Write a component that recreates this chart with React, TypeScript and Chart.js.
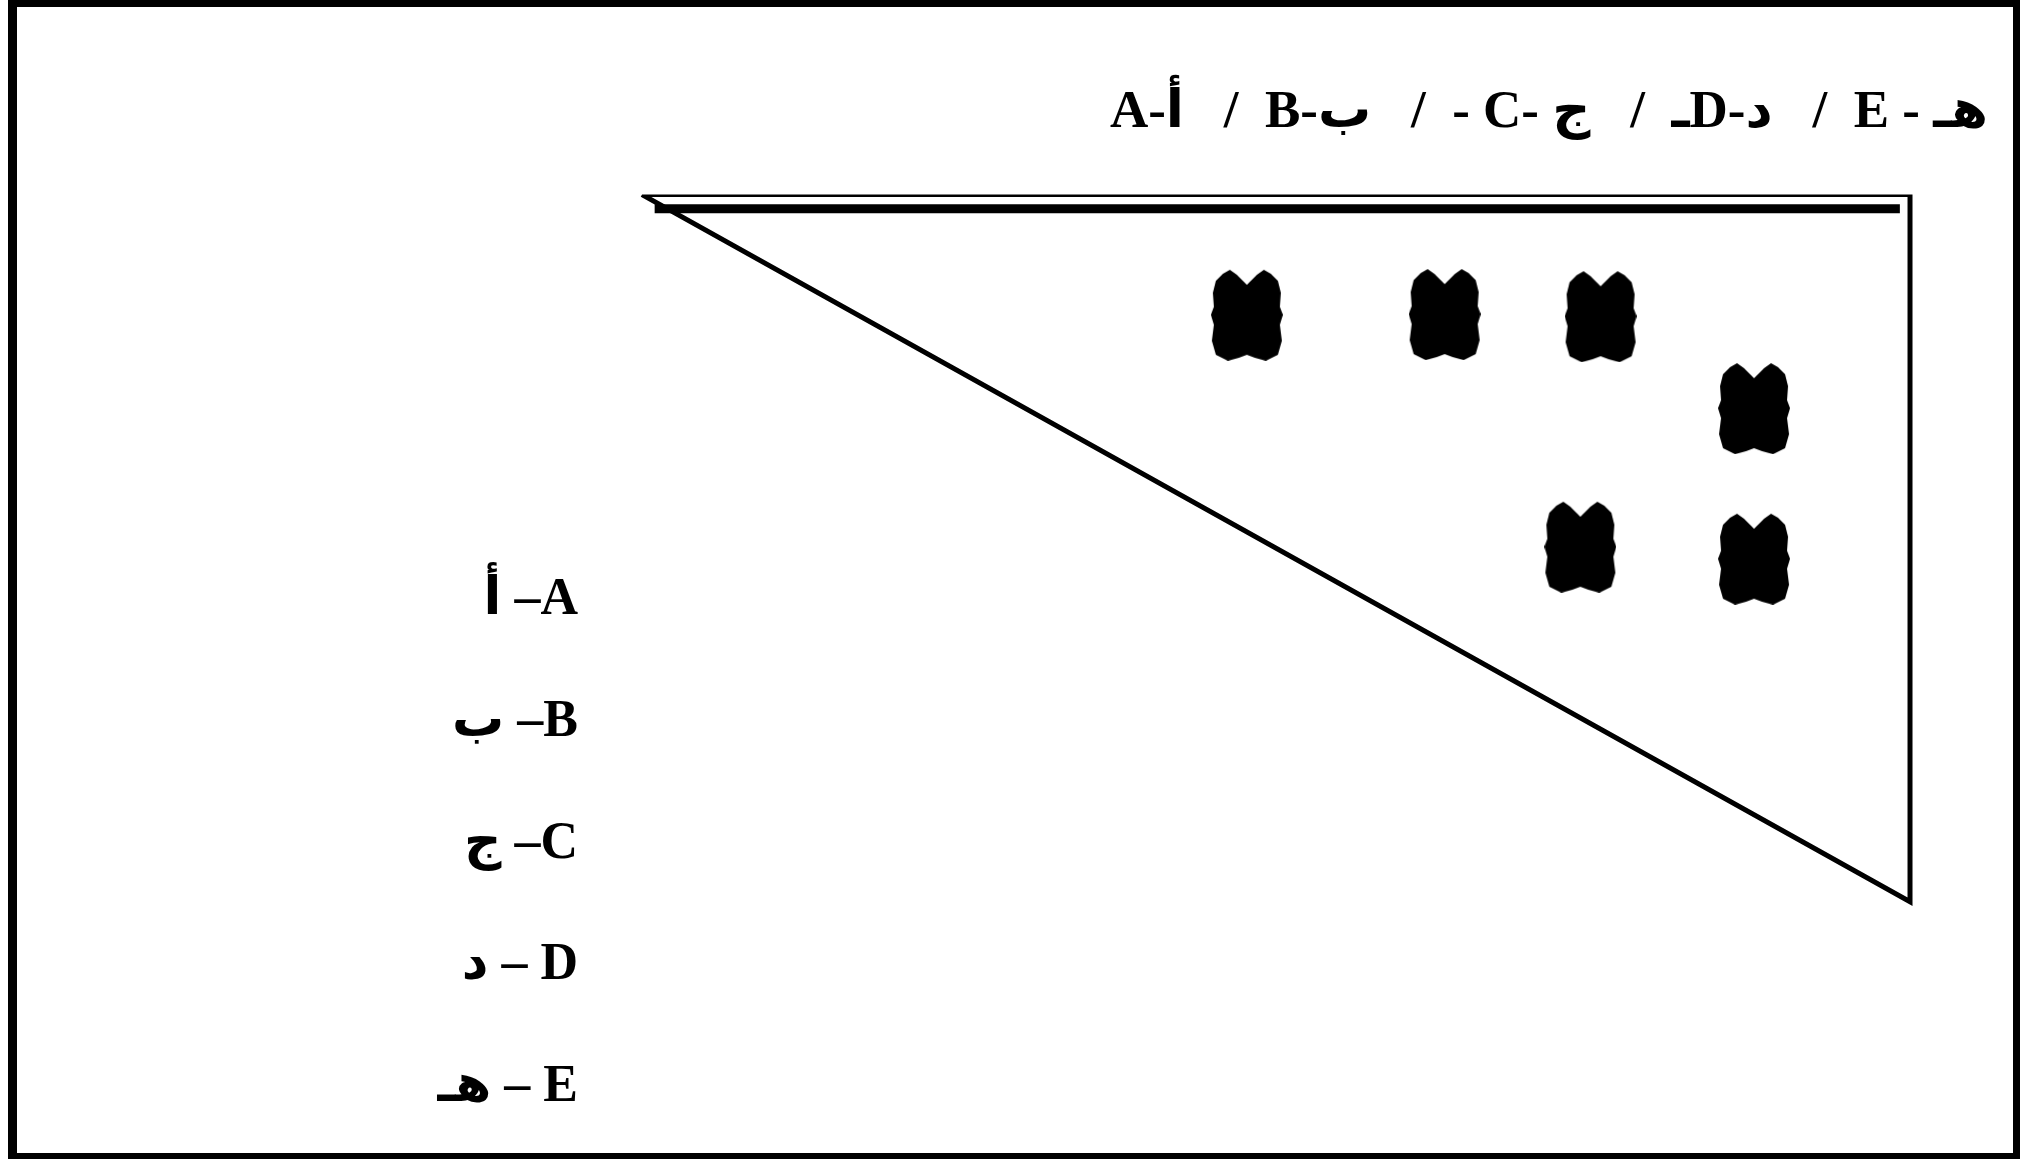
import React, { useEffect, useRef } from "react";
import { Chart, registerables } from "chart.js";

Chart.register(...registerables);

// Title (top legend) pieces
const titleParts = ["A-أ\u200E", "B-ب\u200E", "- C- ج\u200E", "\u200Eـ\u200ED-د\u200E", "E - هـ\u200E"];
// Left key labels (letter pairs)
const keyLabels = ["أ –A", "ب –B", "ج –C", "د – D", "هـ – E"];

// Triangle outline (matrix frame), in grid units
const triX = [0, 10, 10, 0];
const triY = [0, 0, 10, 0];
// Doubled heavy top rule
const ruleX = [0.1, 9.92];
const ruleY = [0.2, 0.2];

// Marked cells
const markX = [4.77, 6.33, 7.56, 8.77, 7.4, 8.77];
const markY = [1.70, 1.69, 1.72, 3.02, 4.98, 5.15];

const FONT = "'Liberation Serif', 'DejaVu Serif', 'DejaVu Sans', serif";

function makeMark(): HTMLCanvasElement {
  const c = document.createElement("canvas");
  const w = 72, h = 92;
  c.width = w;
  c.height = h;
  const g = c.getContext("2d")!;
  g.fillStyle = "#000";
  g.beginPath();
  const pts = [
    [5, 12], [12, 5], [19, 1], [26, 6], [33, 13], [36, 16], [39, 13], [46, 6], [53, 1], [60, 5], [67, 12],
    [70, 24], [69, 38], [72, 46], [69, 56], [71, 72], [67, 86], [55, 92], [44, 89], [36, 86], [28, 89],
    [17, 92], [5, 86], [1, 72], [3, 56], [0, 46], [3, 38], [2, 24],
  ];
  pts.forEach(([x, y], i) => (i === 0 ? g.moveTo(x, y) : g.lineTo(x, y)));
  g.closePath();
  g.fill();
  return c;
}

const framePlugin = {
  id: "frame",
  afterDraw(chart: any) {
    const ctx = chart.ctx;
    ctx.save();
    ctx.fillStyle = "#000";
    ctx.fillRect(8, 0, 2012, 7);
    ctx.fillRect(8, 0, 9, 1159);
    ctx.fillRect(2013, 0, 7, 1159);
    ctx.fillRect(8, 1153, 2012, 6);
    ctx.restore();
  },
};

export default function App() {
  const ref = useRef<HTMLCanvasElement | null>(null);

  useEffect(() => {
    document.body.style.margin = "0";
    document.body.style.overflow = "hidden";
    const canvas = ref.current!;
    const mark = makeMark();
    const chart = new Chart(canvas, {
      type: "scatter",
      data: {
        datasets: [
          {
            data: triX.map((x, i) => ({ x, y: triY[i] })),
            showLine: true,
            borderColor: "#000",
            borderWidth: 5,
            pointRadius: 0,
            yAxisID: "y",
          },
          {
            data: ruleX.map((x, i) => ({ x, y: ruleY[i] })),
            showLine: true,
            borderColor: "#000",
            borderWidth: 9,
            pointRadius: 0,
            yAxisID: "y",
          },
          {
            data: markX.map((x, i) => ({ x, y: markY[i] })),
            showLine: false,
            pointStyle: mark,
            pointRadius: 10,
            yAxisID: "y",
          },
        ],
      },
      options: {
        responsive: false,
        animation: false,
        devicePixelRatio: 1,
        layout: { padding: { left: 0, right: 34, top: 0, bottom: 49 } },
        plugins: {
          legend: { display: false },
          tooltip: { enabled: false },
          title: {
            display: true,
            text: titleParts.join("   /  "),
            align: "end",
            color: "#000",
            font: { family: FONT, size: 53, weight: "bold", lineHeight: 1.2 },
            padding: { top: 82, bottom: 49 },
          },
        },
        scales: {
          x: {
            type: "linear",
            display: false,
            min: -0.331,
            max: 10.615,
          },
          y: {
            type: "linear",
            display: false,
            reverse: true,
            min: 0,
            max: 12.887,
          },
          yl: {
            type: "linear",
            axis: "y",
            position: "left",
            reverse: true,
            min: -3.337,
            max: 4.148,
            grid: { display: false, drawTicks: false },
            border: { display: false },
            afterFit: (s: any) => {
              s.width = 600;
            },
            afterBuildTicks: (s: any) => {
              s.ticks = keyLabels.map((_, i) => ({ value: i }));
            },
            ticks: {
              padding: 22,
              color: "#000",
              font: { family: FONT, size: 52, weight: "bold" },
              callback: (v: any) => keyLabels[v as number] ?? "",
            },
          },
        },
      },
      plugins: [framePlugin],
    } as any);
    return () => chart.destroy();
  }, []);

  return (
    <div style={{ width: 2022, height: 1159, background: "#fff" }}>
      <canvas ref={ref} width={2022} height={1159} style={{ display: "block" }} />
    </div>
  );
}
